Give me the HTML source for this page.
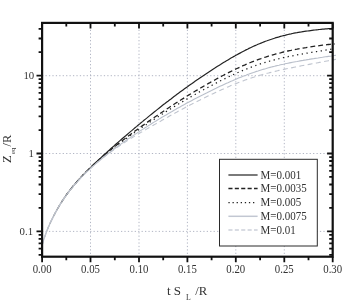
<!DOCTYPE html>
<html><head><meta charset="utf-8"><title>plot</title>
<style>html,body{margin:0;padding:0;background:#fff;}body{width:357px;height:303px;position:relative;overflow:hidden;font-family:"Liberation Serif",serif;}</style>
</head><body>
<svg width="357" height="303" viewBox="0 0 357 303" style="position:absolute;left:0;top:0;will-change:transform;font-family:'Liberation Serif',serif">
<rect width="357" height="303" fill="#fff"/>
<defs><linearGradient id="kg" gradientUnits="userSpaceOnUse" x1="44" y1="0" x2="82" y2="0"><stop offset="0" stop-color="#222" stop-opacity="0.1"/><stop offset="1" stop-color="#222" stop-opacity="1"/></linearGradient></defs>
<path d="M90.5,22.9V256.7 M139.0,22.9V256.7 M187.4,22.9V256.7 M235.8,22.9V256.7 M284.3,22.9V256.7 M42.1,75.7H332.7 M42.1,153.5H332.7 M42.1,231.4H332.7" stroke="#989eb0" stroke-width="0.75" stroke-dasharray="1.25 2.18" fill="none"/>
<path d="M42.0,245.9 L43.5,240.4 L45.0,235.9 L46.5,231.8 L48.0,228.1 L49.5,224.6 L51.0,221.3 L52.5,218.2 L54.0,215.2 L55.5,212.4 L57.0,209.7 L58.5,207.1 L60.0,204.6 L61.5,202.1 L63.0,199.8 L64.5,197.6 L66.0,195.4 L67.5,193.4 L69.0,191.4 L70.5,189.5 L72.0,187.6 L73.5,185.8 L75.0,184.0 L76.5,182.3 L78.0,180.6 L79.5,178.9 L81.0,177.3 L82.5,175.7 L84.0,174.1 L85.5,172.6 L87.0,171.1 L88.5,169.6 L90.0,168.1 L91.5,166.6 L93.0,165.1 L94.5,163.7 L96.0,162.3 L97.5,160.9 L99.0,159.4 L100.5,158.1 L102.0,156.7 L103.5,155.3 L105.0,153.9 L106.5,152.6 L108.0,151.2 L109.5,149.9 L111.0,148.5 L112.5,147.2 L114.0,145.9 L115.5,144.5 L117.0,143.2 L118.5,141.9 L120.0,140.6 L121.5,139.3 L123.0,138.0 L124.5,136.7 L126.0,135.5 L127.5,134.2 L129.0,132.9 L130.5,131.6 L132.0,130.4 L133.5,129.1 L135.0,127.8 L136.5,126.6 L138.0,125.3 L139.5,124.1 L141.0,122.8 L142.5,121.6 L144.0,120.3 L145.5,119.1 L147.0,117.9 L148.5,116.6 L150.0,115.4 L151.5,114.2 L153.0,113.0 L154.5,111.8 L156.0,110.6 L157.5,109.4 L159.0,108.2 L160.5,107.0 L162.0,105.8 L163.5,104.6 L165.0,103.5 L166.5,102.3 L168.0,101.2 L169.5,100.0 L171.0,98.9 L172.5,97.7 L174.0,96.6 L175.5,95.5 L177.0,94.3 L178.5,93.2 L180.0,92.1 L181.5,91.0 L183.0,89.9 L184.5,88.8 L186.0,87.7 L187.5,86.7 L189.0,85.6 L190.5,84.5 L192.0,83.5 L193.5,82.4 L195.0,81.3 L196.5,80.3 L198.0,79.3 L199.5,78.2 L201.0,77.2 L202.5,76.2 L204.0,75.2 L205.5,74.2 L207.0,73.2 L208.5,72.2 L210.0,71.2 L211.5,70.2 L213.0,69.2 L214.5,68.3 L216.0,67.3 L217.5,66.3 L219.0,65.4 L220.5,64.5 L222.0,63.5 L223.5,62.6 L225.0,61.7 L226.5,60.8 L228.0,59.9 L229.5,59.0 L231.0,58.1 L232.5,57.2 L234.0,56.4 L235.5,55.5 L237.0,54.7 L238.5,53.9 L240.0,53.1 L241.5,52.3 L243.0,51.5 L244.5,50.7 L246.0,49.9 L247.5,49.2 L249.0,48.4 L250.5,47.7 L252.0,47.0 L253.5,46.3 L255.0,45.6 L256.5,45.0 L258.0,44.3 L259.5,43.7 L261.0,43.1 L262.5,42.5 L264.0,41.9 L265.5,41.3 L267.0,40.8 L268.5,40.2 L270.0,39.7 L271.5,39.2 L273.0,38.7 L274.5,38.2 L276.0,37.7 L277.5,37.3 L279.0,36.9 L280.5,36.4 L282.0,36.0 L283.5,35.6 L285.0,35.3 L286.5,34.9 L288.0,34.5 L289.5,34.2 L291.0,33.9 L292.5,33.5 L294.0,33.2 L295.5,32.9 L297.0,32.7 L298.5,32.4 L300.0,32.1 L301.5,31.9 L303.0,31.6 L304.5,31.4 L306.0,31.2 L307.5,31.0 L309.0,30.8 L310.5,30.6 L312.0,30.4 L313.5,30.2 L315.0,30.0 L316.5,29.8 L318.0,29.7 L319.5,29.5 L321.0,29.3 L322.5,29.2 L324.0,29.1 L325.5,28.9 L327.0,28.8 L328.5,28.6 L330.0,28.5 L331.5,28.4 L332.5,28.3" stroke="url(#kg)" stroke-width="1.2" fill="none"/>
<path d="M42.0,245.9 L43.5,240.4 L45.0,235.9 L46.5,231.8 L48.0,228.1 L49.5,224.6 L51.0,221.3 L52.5,218.2 L54.0,215.2 L55.5,212.4 L57.0,209.7 L58.5,207.1 L60.0,204.6 L61.5,202.2 L63.0,199.8 L64.5,197.6 L66.0,195.4 L67.5,193.3 L69.0,191.3 L70.5,189.4 L72.0,187.5 L73.5,185.7 L75.0,183.9 L76.5,182.1 L78.0,180.4 L79.5,178.8 L81.0,177.1 L82.5,175.6 L84.0,174.0 L85.5,172.5 L87.0,170.9 L88.5,169.5 L90.0,168.0 L91.5,166.6 L93.0,165.2 L94.5,163.8 L96.0,162.4 L97.5,161.0 L99.0,159.7 L100.5,158.4 L102.0,157.1 L103.5,155.8 L105.0,154.5 L106.5,153.2 L108.0,152.0 L109.5,150.7 L111.0,149.5 L112.5,148.3 L114.0,147.1 L115.5,145.9 L117.0,144.7 L118.5,143.5 L120.0,142.3 L121.5,141.2 L123.0,140.0 L124.5,138.9 L126.0,137.7 L127.5,136.6 L129.0,135.5 L130.5,134.4 L132.0,133.3 L133.5,132.2 L135.0,131.1 L136.5,130.0 L138.0,128.9 L139.5,127.8 L141.0,126.7 L142.5,125.6 L144.0,124.6 L145.5,123.5 L147.0,122.5 L148.5,121.4 L150.0,120.4 L151.5,119.3 L153.0,118.3 L154.5,117.2 L156.0,116.2 L157.5,115.2 L159.0,114.2 L160.5,113.2 L162.0,112.2 L163.5,111.2 L165.0,110.2 L166.5,109.2 L168.0,108.2 L169.5,107.2 L171.0,106.2 L172.5,105.3 L174.0,104.3 L175.5,103.3 L177.0,102.4 L178.5,101.4 L180.0,100.5 L181.5,99.5 L183.0,98.6 L184.5,97.7 L186.0,96.7 L187.5,95.8 L189.0,94.9 L190.5,94.0 L192.0,93.1 L193.5,92.2 L195.0,91.3 L196.5,90.4 L198.0,89.5 L199.5,88.6 L201.0,87.7 L202.5,86.9 L204.0,86.0 L205.5,85.1 L207.0,84.3 L208.5,83.4 L210.0,82.6 L211.5,81.7 L213.0,80.9 L214.5,80.1 L216.0,79.2 L217.5,78.4 L219.0,77.6 L220.5,76.8 L222.0,76.0 L223.5,75.2 L225.0,74.4 L226.5,73.7 L228.0,72.9 L229.5,72.1 L231.0,71.4 L232.5,70.6 L234.0,69.9 L235.5,69.2 L237.0,68.5 L238.5,67.8 L240.0,67.1 L241.5,66.4 L243.0,65.7 L244.5,65.1 L246.0,64.4 L247.5,63.8 L249.0,63.1 L250.5,62.5 L252.0,61.9 L253.5,61.3 L255.0,60.7 L256.5,60.2 L258.0,59.6 L259.5,59.1 L261.0,58.6 L262.5,58.0 L264.0,57.5 L265.5,57.1 L267.0,56.6 L268.5,56.1 L270.0,55.7 L271.5,55.2 L273.0,54.8 L274.5,54.4 L276.0,53.9 L277.5,53.5 L279.0,53.1 L280.5,52.8 L282.0,52.4 L283.5,52.0 L285.0,51.7 L286.5,51.3 L288.0,51.0 L289.5,50.7 L291.0,50.4 L292.5,50.0 L294.0,49.7 L295.5,49.4 L297.0,49.2 L298.5,48.9 L300.0,48.6 L301.5,48.3 L303.0,48.1 L304.5,47.8 L306.0,47.6 L307.5,47.3 L309.0,47.1 L310.5,46.9 L312.0,46.6 L313.5,46.4 L315.0,46.2 L316.5,46.0 L318.0,45.8 L319.5,45.6 L321.0,45.4 L322.5,45.2 L324.0,45.0 L325.5,44.9 L327.0,44.7 L328.5,44.5 L330.0,44.3 L331.5,44.2 L333.0,44.0 L334.5,43.9 L334.7,43.8" stroke="url(#kg)" stroke-width="1.3" stroke-dasharray="4.9 3" fill="none"/>
<path d="M42.0,245.9 L43.5,240.4 L45.0,235.9 L46.5,231.8 L48.0,228.1 L49.5,224.6 L51.0,221.3 L52.5,218.2 L54.0,215.2 L55.5,212.4 L57.0,209.7 L58.5,207.1 L60.0,204.6 L61.5,202.1 L63.0,199.8 L64.5,197.6 L66.0,195.4 L67.5,193.3 L69.0,191.3 L70.5,189.4 L72.0,187.5 L73.5,185.7 L75.0,183.9 L76.5,182.2 L78.0,180.5 L79.5,178.8 L81.0,177.2 L82.5,175.7 L84.0,174.1 L85.5,172.6 L87.0,171.1 L88.5,169.6 L90.0,168.2 L91.5,166.8 L93.0,165.4 L94.5,164.0 L96.0,162.7 L97.5,161.4 L99.0,160.0 L100.5,158.7 L102.0,157.5 L103.5,156.2 L105.0,155.0 L106.5,153.7 L108.0,152.5 L109.5,151.3 L111.0,150.1 L112.5,148.9 L114.0,147.7 L115.5,146.6 L117.0,145.4 L118.5,144.3 L120.0,143.2 L121.5,142.0 L123.0,140.9 L124.5,139.8 L126.0,138.7 L127.5,137.6 L129.0,136.5 L130.5,135.5 L132.0,134.4 L133.5,133.3 L135.0,132.3 L136.5,131.2 L138.0,130.2 L139.5,129.2 L141.0,128.1 L142.5,127.1 L144.0,126.1 L145.5,125.1 L147.0,124.0 L148.5,123.0 L150.0,122.0 L151.5,121.0 L153.0,120.1 L154.5,119.1 L156.0,118.1 L157.5,117.1 L159.0,116.2 L160.5,115.2 L162.0,114.2 L163.5,113.3 L165.0,112.3 L166.5,111.4 L168.0,110.5 L169.5,109.5 L171.0,108.6 L172.5,107.7 L174.0,106.8 L175.5,105.9 L177.0,104.9 L178.5,104.0 L180.0,103.1 L181.5,102.3 L183.0,101.4 L184.5,100.5 L186.0,99.6 L187.5,98.7 L189.0,97.9 L190.5,97.0 L192.0,96.2 L193.5,95.3 L195.0,94.5 L196.5,93.6 L198.0,92.8 L199.5,91.9 L201.0,91.1 L202.5,90.3 L204.0,89.5 L205.5,88.7 L207.0,87.9 L208.5,87.1 L210.0,86.3 L211.5,85.5 L213.0,84.7 L214.5,83.9 L216.0,83.1 L217.5,82.4 L219.0,81.6 L220.5,80.8 L222.0,80.1 L223.5,79.3 L225.0,78.6 L226.5,77.9 L228.0,77.1 L229.5,76.4 L231.0,75.7 L232.5,75.0 L234.0,74.3 L235.5,73.7 L237.0,73.0 L238.5,72.3 L240.0,71.7 L241.5,71.0 L243.0,70.4 L244.5,69.8 L246.0,69.2 L247.5,68.6 L249.0,68.0 L250.5,67.4 L252.0,66.8 L253.5,66.3 L255.0,65.8 L256.5,65.2 L258.0,64.7 L259.5,64.2 L261.0,63.7 L262.5,63.2 L264.0,62.8 L265.5,62.3 L267.0,61.9 L268.5,61.4 L270.0,61.0 L271.5,60.6 L273.0,60.2 L274.5,59.8 L276.0,59.4 L277.5,59.0 L279.0,58.7 L280.5,58.3 L282.0,58.0 L283.5,57.6 L285.0,57.3 L286.5,57.0 L288.0,56.7 L289.5,56.3 L291.0,56.0 L292.5,55.8 L294.0,55.5 L295.5,55.2 L297.0,54.9 L298.5,54.6 L300.0,54.4 L301.5,54.1 L303.0,53.8 L304.5,53.6 L306.0,53.3 L307.5,53.1 L309.0,52.8 L310.5,52.6 L312.0,52.3 L313.5,52.1 L315.0,51.9 L316.5,51.6 L318.0,51.4 L319.5,51.1 L321.0,50.9 L322.5,50.7 L324.0,50.4 L325.5,50.2 L327.0,49.9 L328.5,49.7 L330.0,49.4 L331.5,49.2 L332.0,49.1" stroke="url(#kg)" stroke-width="1.25" stroke-dasharray="1.3 3.5" fill="none"/>
<path d="M42.0,245.9 L43.5,240.4 L45.0,235.9 L46.5,231.8 L48.0,228.1 L49.5,224.6 L51.0,221.3 L52.5,218.2 L54.0,215.2 L55.5,212.4 L57.0,209.7 L58.5,207.1 L60.0,204.6 L61.5,202.2 L63.0,199.9 L64.5,197.7 L66.0,195.6 L67.5,193.6 L69.0,191.6 L70.5,189.7 L72.0,187.8 L73.5,186.0 L75.0,184.3 L76.5,182.6 L78.0,180.9 L79.5,179.3 L81.0,177.7 L82.5,176.2 L84.0,174.7 L85.5,173.2 L87.0,171.7 L88.5,170.3 L90.0,168.9 L91.5,167.5 L93.0,166.2 L94.5,164.8 L96.0,163.5 L97.5,162.2 L99.0,161.0 L100.5,159.7 L102.0,158.5 L103.5,157.2 L105.0,156.0 L106.5,154.8 L108.0,153.7 L109.5,152.5 L111.0,151.4 L112.5,150.2 L114.0,149.1 L115.5,148.0 L117.0,146.9 L118.5,145.8 L120.0,144.7 L121.5,143.6 L123.0,142.6 L124.5,141.5 L126.0,140.5 L127.5,139.4 L129.0,138.4 L130.5,137.4 L132.0,136.4 L133.5,135.4 L135.0,134.4 L136.5,133.4 L138.0,132.4 L139.5,131.4 L141.0,130.4 L142.5,129.4 L144.0,128.5 L145.5,127.5 L147.0,126.6 L148.5,125.6 L150.0,124.7 L151.5,123.7 L153.0,122.8 L154.5,121.9 L156.0,121.0 L157.5,120.0 L159.0,119.1 L160.5,118.2 L162.0,117.3 L163.5,116.4 L165.0,115.6 L166.5,114.7 L168.0,113.8 L169.5,112.9 L171.0,112.1 L172.5,111.2 L174.0,110.3 L175.5,109.5 L177.0,108.6 L178.5,107.8 L180.0,107.0 L181.5,106.1 L183.0,105.3 L184.5,104.5 L186.0,103.6 L187.5,102.8 L189.0,102.0 L190.5,101.2 L192.0,100.4 L193.5,99.6 L195.0,98.8 L196.5,98.1 L198.0,97.3 L199.5,96.5 L201.0,95.7 L202.5,95.0 L204.0,94.2 L205.5,93.4 L207.0,92.7 L208.5,91.9 L210.0,91.2 L211.5,90.5 L213.0,89.7 L214.5,89.0 L216.0,88.3 L217.5,87.5 L219.0,86.8 L220.5,86.1 L222.0,85.4 L223.5,84.7 L225.0,84.0 L226.5,83.3 L228.0,82.7 L229.5,82.0 L231.0,81.3 L232.5,80.7 L234.0,80.0 L235.5,79.4 L237.0,78.8 L238.5,78.1 L240.0,77.5 L241.5,76.9 L243.0,76.3 L244.5,75.7 L246.0,75.2 L247.5,74.6 L249.0,74.1 L250.5,73.5 L252.0,73.0 L253.5,72.5 L255.0,71.9 L256.5,71.4 L258.0,71.0 L259.5,70.5 L261.0,70.0 L262.5,69.5 L264.0,69.1 L265.5,68.7 L267.0,68.2 L268.5,67.8 L270.0,67.4 L271.5,67.0 L273.0,66.6 L274.5,66.3 L276.0,65.9 L277.5,65.5 L279.0,65.2 L280.5,64.8 L282.0,64.5 L283.5,64.2 L285.0,63.8 L286.5,63.5 L288.0,63.2 L289.5,62.9 L291.0,62.6 L292.5,62.3 L294.0,62.0 L295.5,61.7 L297.0,61.5 L298.5,61.2 L300.0,60.9 L301.5,60.6 L303.0,60.4 L304.5,60.1 L306.0,59.9 L307.5,59.6 L309.0,59.4 L310.5,59.1 L312.0,58.9 L313.5,58.7 L315.0,58.4 L316.5,58.2 L318.0,58.0 L319.5,57.7 L321.0,57.5 L322.5,57.3 L324.0,57.0 L325.5,56.8 L327.0,56.6 L328.5,56.4 L330.0,56.2 L331.5,56.0 L333.0,55.7 L334.5,55.5 L336.0,55.3" stroke="#b9bfca" stroke-width="1.1" fill="none"/>
<path d="M42.0,245.9 L43.5,240.4 L45.0,235.9 L46.5,231.8 L48.0,228.1 L49.5,224.6 L51.0,221.3 L52.5,218.2 L54.0,215.2 L55.5,212.4 L57.0,209.7 L58.5,207.1 L60.0,204.6 L61.5,202.2 L63.0,200.0 L64.5,197.7 L66.0,195.6 L67.5,193.6 L69.0,191.6 L70.5,189.7 L72.0,187.8 L73.5,186.0 L75.0,184.2 L76.5,182.5 L78.0,180.9 L79.5,179.3 L81.0,177.7 L82.5,176.1 L84.0,174.6 L85.5,173.1 L87.0,171.7 L88.5,170.3 L90.0,168.9 L91.5,167.5 L93.0,166.2 L94.5,164.9 L96.0,163.6 L97.5,162.3 L99.0,161.1 L100.5,159.8 L102.0,158.6 L103.5,157.4 L105.0,156.3 L106.5,155.1 L108.0,154.0 L109.5,152.9 L111.0,151.8 L112.5,150.7 L114.0,149.6 L115.5,148.6 L117.0,147.5 L118.5,146.5 L120.0,145.5 L121.5,144.5 L123.0,143.5 L124.5,142.5 L126.0,141.6 L127.5,140.6 L129.0,139.7 L130.5,138.7 L132.0,137.8 L133.5,136.9 L135.0,136.0 L136.5,135.1 L138.0,134.2 L139.5,133.3 L141.0,132.4 L142.5,131.5 L144.0,130.6 L145.5,129.8 L147.0,128.9 L148.5,128.0 L150.0,127.2 L151.5,126.3 L153.0,125.4 L154.5,124.6 L156.0,123.7 L157.5,122.9 L159.0,122.0 L160.5,121.2 L162.0,120.3 L163.5,119.5 L165.0,118.7 L166.5,117.8 L168.0,117.0 L169.5,116.1 L171.0,115.3 L172.5,114.5 L174.0,113.6 L175.5,112.8 L177.0,112.0 L178.5,111.1 L180.0,110.3 L181.5,109.5 L183.0,108.7 L184.5,107.9 L186.0,107.1 L187.5,106.3 L189.0,105.5 L190.5,104.7 L192.0,104.0 L193.5,103.2 L195.0,102.4 L196.5,101.7 L198.0,100.9 L199.5,100.2 L201.0,99.4 L202.5,98.7 L204.0,98.0 L205.5,97.3 L207.0,96.5 L208.5,95.8 L210.0,95.1 L211.5,94.4 L213.0,93.7 L214.5,93.0 L216.0,92.3 L217.5,91.6 L219.0,90.9 L220.5,90.2 L222.0,89.5 L223.5,88.9 L225.0,88.2 L226.5,87.6 L228.0,86.9 L229.5,86.3 L231.0,85.6 L232.5,85.0 L234.0,84.4 L235.5,83.8 L237.0,83.2 L238.5,82.6 L240.0,82.0 L241.5,81.4 L243.0,80.9 L244.5,80.3 L246.0,79.8 L247.5,79.3 L249.0,78.8 L250.5,78.2 L252.0,77.7 L253.5,77.3 L255.0,76.8 L256.5,76.3 L258.0,75.9 L259.5,75.4 L261.0,75.0 L262.5,74.6 L264.0,74.1 L265.5,73.7 L267.0,73.3 L268.5,73.0 L270.0,72.6 L271.5,72.2 L273.0,71.8 L274.5,71.5 L276.0,71.1 L277.5,70.8 L279.0,70.4 L280.5,70.1 L282.0,69.8 L283.5,69.5 L285.0,69.1 L286.5,68.8 L288.0,68.5 L289.5,68.2 L291.0,67.9 L292.5,67.6 L294.0,67.3 L295.5,67.0 L297.0,66.7 L298.5,66.4 L300.0,66.1 L301.5,65.8 L303.0,65.5 L304.5,65.3 L306.0,65.0 L307.5,64.7 L309.0,64.4 L310.5,64.1 L312.0,63.8 L313.5,63.6 L315.0,63.3 L316.5,63.0 L318.0,62.7 L319.5,62.4 L321.0,62.2 L322.5,61.9 L324.0,61.6 L325.5,61.3 L327.0,61.0 L328.5,60.7 L330.0,60.5 L331.5,60.2 L333.0,59.9 L334.5,59.6 L336.0,59.3" stroke="#c0c5cf" stroke-width="1.1" stroke-dasharray="5 3.4" fill="none"/>
<rect x="42.1" y="22.9" width="290.6" height="233.8" fill="none" stroke="#111" stroke-width="2.2"/>
<path d="M42.1,256.7v5.6 M42.1,22.9v5.6 M66.3,256.7v3.5 M66.3,22.9v3.5 M90.5,256.7v5.6 M90.5,22.9v5.6 M114.8,256.7v3.5 M114.8,22.9v3.5 M139.0,256.7v5.6 M139.0,22.9v5.6 M163.2,256.7v3.5 M163.2,22.9v3.5 M187.4,256.7v5.6 M187.4,22.9v5.6 M211.6,256.7v3.5 M211.6,22.9v3.5 M235.8,256.7v5.6 M235.8,22.9v5.6 M260.1,256.7v3.5 M260.1,22.9v3.5 M284.3,256.7v5.6 M284.3,22.9v5.6 M308.5,256.7v3.5 M308.5,22.9v3.5 M332.7,256.7v5.6 M332.7,22.9v5.6 M42.1,254.8h-3.5 M332.7,254.8h-3.5 M42.1,248.6h-3.5 M332.7,248.6h-3.5 M42.1,243.4h-3.5 M332.7,243.4h-3.5 M42.1,238.9h-3.5 M332.7,238.9h-3.5 M42.1,234.9h-3.5 M332.7,234.9h-3.5 M42.1,231.3h-5.6 M332.7,231.3h-5.6 M42.1,207.9h-3.5 M332.7,207.9h-3.5 M42.1,194.2h-3.5 M332.7,194.2h-3.5 M42.1,184.5h-3.5 M332.7,184.5h-3.5 M42.1,176.9h-3.5 M332.7,176.9h-3.5 M42.1,170.8h-3.5 M332.7,170.8h-3.5 M42.1,165.6h-3.5 M332.7,165.6h-3.5 M42.1,161.0h-3.5 M332.7,161.0h-3.5 M42.1,157.1h-3.5 M332.7,157.1h-3.5 M42.1,153.5h-5.6 M332.7,153.5h-5.6 M42.1,130.1h-3.5 M332.7,130.1h-3.5 M42.1,116.4h-3.5 M332.7,116.4h-3.5 M42.1,106.6h-3.5 M332.7,106.6h-3.5 M42.1,99.1h-3.5 M332.7,99.1h-3.5 M42.1,92.9h-3.5 M332.7,92.9h-3.5 M42.1,87.7h-3.5 M332.7,87.7h-3.5 M42.1,83.2h-3.5 M332.7,83.2h-3.5 M42.1,79.2h-3.5 M332.7,79.2h-3.5 M42.1,75.7h-5.6 M332.7,75.7h-5.6 M42.1,52.2h-3.5 M332.7,52.2h-3.5 M42.1,38.5h-3.5 M332.7,38.5h-3.5 M42.1,28.8h-3.5 M332.7,28.8h-3.5" stroke="#111" stroke-width="1.8" fill="none"/>
<text transform="translate(42.1,272.8) scale(1,1.06)" font-size="10.8" text-anchor="middle" fill="#333">0.00</text>
<text transform="translate(90.5,272.8) scale(1,1.06)" font-size="10.8" text-anchor="middle" fill="#333">0.05</text>
<text transform="translate(139.0,272.8) scale(1,1.06)" font-size="10.8" text-anchor="middle" fill="#333">0.10</text>
<text transform="translate(187.4,272.8) scale(1,1.06)" font-size="10.8" text-anchor="middle" fill="#333">0.15</text>
<text transform="translate(235.8,272.8) scale(1,1.06)" font-size="10.8" text-anchor="middle" fill="#333">0.20</text>
<text transform="translate(284.3,272.8) scale(1,1.06)" font-size="10.8" text-anchor="middle" fill="#333">0.25</text>
<text transform="translate(332.7,272.8) scale(1,1.06)" font-size="10.8" text-anchor="middle" fill="#333">0.30</text>
<text transform="translate(34.2,79.4) scale(1,1.05)" font-size="10.8" text-anchor="end" fill="#333">10</text>
<text transform="translate(34.0,157.2) scale(1,1.05)" font-size="10.8" text-anchor="end" fill="#333">1</text>
<text transform="translate(33.1,235.1) scale(1,1.05)" font-size="10.8" text-anchor="end" fill="#333">0.1</text>
<text x="167.0" y="295.0" font-size="13" fill="#333">t S</text>
<text x="186.0" y="300.3" font-size="7.8" fill="#333">L</text>
<text x="195.3" y="295.0" font-size="12.7" fill="#333">/R</text>
<g transform="translate(11.0,162.9) rotate(-90)" fill="#333"><text x="0" y="0" font-size="12.8">Z</text><text x="8.8" y="3.7" font-size="6.8">eq</text><text x="16.5" y="0" font-size="12.4">/R</text></g>
<rect x="219.5" y="159.3" width="97.8" height="86.7" fill="#fff" stroke="#2a2a2a" stroke-width="1"/>
<path d="M228.4,175.0H257.6" stroke="#3a3a3a" stroke-width="1.35" fill="none"/>
<text transform="translate(260.6,178.5) scale(1,1.05)" font-size="11" fill="#333">M=0.001</text>
<path d="M228.4,188.5H257.6" stroke="#222" stroke-width="1.4" stroke-dasharray="4.1 2.3" fill="none"/>
<text transform="translate(260.6,192.4) scale(1,1.05)" font-size="11" fill="#333">M=0.0035</text>
<path d="M228.4,202.6H254.5" stroke="#222" stroke-width="1.3" stroke-dasharray="1.3 2.8" fill="none"/>
<text transform="translate(260.6,206.1) scale(1,1.05)" font-size="11" fill="#333">M=0.005</text>
<path d="M228.4,216.3H257.6" stroke="#c2c7d2" stroke-width="1.5" fill="none"/>
<text transform="translate(260.6,219.8) scale(1,1.05)" font-size="11" fill="#333">M=0.0075</text>
<path d="M228.4,230.1H257.6" stroke="#cdd1da" stroke-width="1.5" stroke-dasharray="4.1 2.3" fill="none"/>
<text transform="translate(260.6,233.6) scale(1,1.05)" font-size="11" fill="#333">M=0.01</text>
</svg>
</body></html>
